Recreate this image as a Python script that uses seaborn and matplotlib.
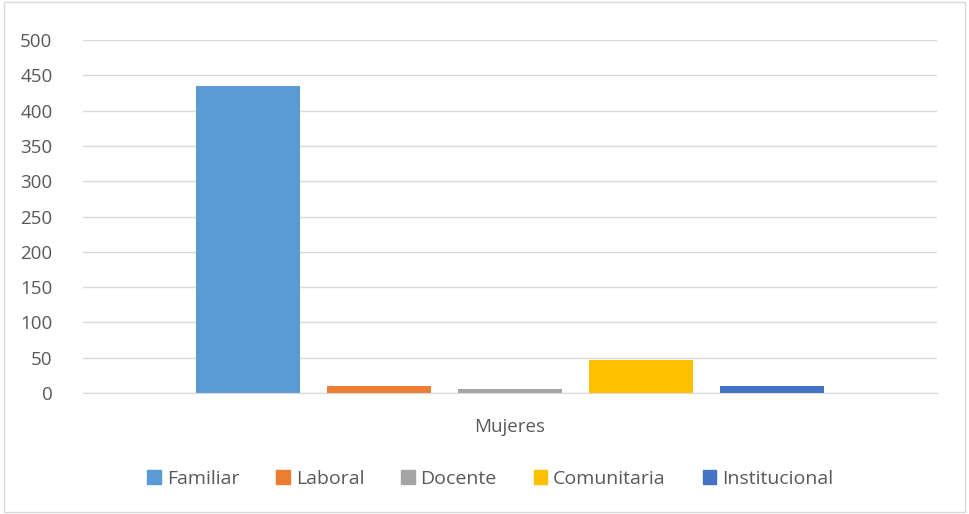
import pandas as pd
import matplotlib
matplotlib.use("Agg")
import matplotlib.pyplot as plt
import seaborn as sns

# data
group = ["Mujeres"] * 5
tipos = ["Familiar", "Laboral", "Docente", "Comunitaria", "Institucional"]
valores = [435, 10, 6, 47, 10]
colores = ["#5B9BD5", "#ED7D31", "#A5A5A5", "#FFC000", "#4472C4"]
yticks = [0, 50, 100, 150, 200, 250, 300, 350, 400, 450, 500]

df = pd.DataFrame({"grupo": group, "tipo": tipos, "valor": valores})

sns.set_style("white")
plt.rcParams["font.family"] = ["Open Sans", "DejaVu Sans"]

fig = plt.figure(figsize=(9.69, 5.14), dpi=100)
ax = fig.add_axes([0.0857, 0.2354, 0.967 - 0.0857, 0.922 - 0.2354])

sns.barplot(data=df, x="grupo", y="valor", hue="tipo", hue_order=tipos,
            palette=colores, saturation=1, linewidth=0,
            width=0.767, gap=0.2, ax=ax, legend=False)

ax.set_ylim(0, 500)
ax.set_yticks(yticks)
ax.set_xlim(-0.5, 0.5)
ax.yaxis.grid(True, color="#D9D9D9", linewidth=1)
ax.set_axisbelow(True)
for s in ["top", "right", "left"]:
    ax.spines[s].set_visible(False)
ax.spines["bottom"].set_color("#D9D9D9")
ax.tick_params(axis="both", length=0, labelsize=13.5, labelcolor="#595959")
ax.tick_params(axis="x", pad=18)
ax.tick_params(axis="y", pad=22)
ax.set_xlabel("")
ax.set_ylabel("")

handles = [plt.Rectangle((0, 0), 1, 1, color=c) for c in colores]
fig.legend(handles, tipos, loc="center", bbox_to_anchor=(0.506, 0.068),
           ncol=5, frameon=False, fontsize=14, labelcolor="#595959",
           handlelength=0.7, handleheight=0.7, handletextpad=0.3,
           columnspacing=1.9)

border = plt.Rectangle((0.004, 0.004), 0.992, 0.992, transform=fig.transFigure,
                       fill=False, edgecolor="#D9D9D9", linewidth=1)
fig.patches.append(border)

fig.savefig("out.png", dpi=100)
